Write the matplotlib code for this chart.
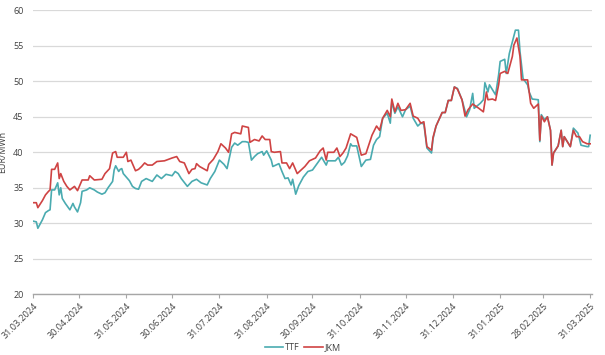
import pandas as pd
import matplotlib
matplotlib.use("Agg")
import matplotlib.pyplot as plt
import matplotlib.dates as mdates

plt.rcParams['font.family'] = ['Open Sans', 'DejaVu Sans']

start = pd.Timestamp("2024-03-31")

# days after 31.03.2024, EUR/MWh
ttf_days = [0, 2, 3, 6, 8, 10, 11, 12, 14, 16, 17, 18, 19, 21, 24, 26, 27, 29, 31, 32,
            35, 37, 40, 42, 45, 47, 49, 52, 53, 54, 56, 57, 58, 59, 61, 63, 65, 67, 69, 71,
            74, 78, 81, 84, 87, 91, 93, 95, 97, 101, 104, 107, 110, 114, 116, 119, 122, 125, 127, 130,
            132, 134, 137, 139, 141, 143, 145, 147, 150, 151, 153, 156, 157, 161, 163, 165, 167, 169, 170, 172,
            174, 177, 180, 183, 187, 189, 192, 193, 198, 200, 202, 204, 206, 208, 209, 212, 215, 218, 221, 223,
            225, 227, 229, 232, 234, 235, 237, 239, 242, 244, 247, 249, 252, 254, 256, 258, 261, 262, 264, 268,
            270, 272, 274, 276, 278, 281, 284, 286, 288, 289, 293, 295, 296, 298, 299, 303, 305, 306, 309, 310,
            312, 316, 318, 319, 321, 324, 325, 327, 331, 332, 333, 335, 337, 339, 340, 341, 344, 346, 347, 348,
            350, 352, 354, 357, 359, 363, 364, 365]
ttf = [30.3, 30.2, 29.3, 30.5, 31.5, 31.8, 31.9, 34.7, 34.7, 35.7, 34.0, 35.0, 33.5, 32.8, 31.9, 32.8, 32.3, 31.6, 32.9, 34.5,
       34.7, 35.0, 34.7, 34.4, 34.1, 34.3, 35.0, 35.9, 37.5, 38.1, 37.3, 37.6, 37.7, 37.0, 36.5, 36.0, 35.2, 34.9, 34.8, 35.9,
       36.3, 35.9, 36.8, 36.3, 36.9, 36.7, 37.3, 37.0, 36.3, 35.2, 35.9, 36.2, 35.7, 35.4, 36.3, 37.3, 38.9, 38.3, 37.7, 40.7,
       41.3, 41.0, 41.5, 41.5, 41.4, 38.9, 39.4, 39.8, 40.1, 39.6, 40.2, 38.9, 38.0, 38.4, 37.3, 36.3, 36.4, 35.4, 36.2, 34.1,
       35.3, 36.5, 37.3, 37.5, 38.7, 39.3, 38.2, 38.8, 38.8, 39.3, 38.2, 38.6, 39.5, 41.2, 40.9, 40.9, 38.0, 38.9, 39.0, 41.0,
       41.8, 42.2, 44.8, 45.5, 44.1, 47.1, 45.5, 46.4, 45.0, 46.0, 46.5, 44.8, 43.7, 44.1, 44.0, 40.6, 39.9, 41.9, 43.7, 45.6,
       45.6, 47.3, 47.3, 49.2, 49.0, 47.4, 45.0, 46.0, 48.3, 46.2, 46.9, 47.4, 49.8, 48.5, 49.5, 48.1, 50.9, 52.8, 53.1, 51.1,
       53.9, 57.2, 57.2, 54.2, 50.4, 49.5, 48.5, 47.5, 47.4, 41.5, 45.3, 44.6, 45.0, 43.1, 38.2, 39.9, 40.9, 43.1, 40.8, 42.2,
       41.5, 40.8, 43.4, 42.7, 41.0, 40.8, 40.8, 42.4]

jkm_days = [0, 2, 3, 6, 8, 10, 11, 12, 14, 16, 17, 18, 20, 22, 24, 27, 29, 32, 36, 37,
            40, 45, 47, 50, 52, 54, 55, 59, 61, 62, 64, 67, 69, 71, 73, 75, 78, 81, 86, 91,
            94, 96, 99, 102, 104, 106, 107, 109, 114, 115, 118, 121, 123, 126, 128, 130, 132, 136, 137, 139,
            141, 142, 145, 148, 150, 152, 155, 156, 158, 162, 163, 166, 168, 170, 173, 175, 178, 181, 185, 188,
            190, 192, 193, 197, 199, 201, 203, 205, 208, 212, 215, 218, 222, 225, 227, 229, 232, 234, 235, 237,
            239, 241, 244, 247, 249, 252, 254, 256, 258, 261, 262, 264, 268, 270, 272, 274, 276, 278, 281, 283,
            285, 288, 292, 295, 297, 298, 301, 303, 305, 306, 309, 311, 314, 315, 317, 319, 320, 324, 326, 328,
            331, 332, 333, 335, 337, 339, 340, 341, 344, 346, 347, 348, 350, 352, 354, 356, 358, 360, 363, 365]
jkm = [32.9, 32.9, 32.2, 33.2, 34.0, 34.5, 34.7, 37.6, 37.6, 38.5, 36.3, 37.0, 35.9, 35.2, 34.7, 35.2, 34.6, 36.1, 36.1, 36.7,
       36.1, 36.2, 37.0, 37.7, 39.9, 40.1, 39.3, 39.3, 40.0, 38.7, 38.9, 37.4, 37.6, 38.0, 38.5, 38.2, 38.2, 38.7, 38.8, 39.2,
       39.4, 38.7, 38.5, 37.0, 37.6, 37.7, 38.4, 38.0, 37.4, 38.3, 39.0, 40.1, 41.2, 40.6, 40.0, 42.6, 42.8, 42.6, 43.7, 43.6,
       43.5, 41.4, 41.8, 41.6, 42.3, 41.8, 41.8, 40.1, 40.0, 40.1, 38.5, 38.5, 37.7, 38.5, 37.0, 37.4, 38.0, 38.8, 39.2, 40.2,
       40.6, 38.9, 40.0, 40.0, 40.6, 39.4, 39.9, 40.6, 42.6, 42.1, 39.6, 39.8, 42.4, 43.7, 43.1, 44.8, 45.9, 45.0, 47.5, 45.7,
       46.9, 45.9, 46.0, 46.9, 45.1, 44.8, 44.1, 44.3, 40.8, 40.3, 42.1, 43.7, 45.6, 45.6, 47.3, 47.3, 49.2, 48.9, 47.4, 45.1,
       46.0, 46.8, 46.2, 45.7, 48.5, 47.4, 47.5, 47.3, 49.5, 51.1, 51.4, 51.1, 53.5, 55.1, 56.1, 53.5, 50.2, 50.2, 46.9, 46.2,
       46.8, 41.7, 45.1, 44.3, 45.0, 43.1, 38.2, 39.9, 40.9, 43.1, 40.8, 42.2, 41.5, 40.8, 43.1, 42.2, 42.2, 41.5, 41.2, 41.2]

tick_dates = ["2024-03-31", "2024-04-30", "2024-05-31", "2024-06-30", "2024-07-31", "2024-08-31",
              "2024-09-30", "2024-10-31", "2024-11-30", "2024-12-31", "2025-01-31", "2025-02-28",
              "2025-03-31"]

ttf_x = start + pd.to_timedelta(ttf_days, unit="D")
jkm_x = start + pd.to_timedelta(jkm_days, unit="D")
ticks = pd.to_datetime(tick_dates)

fig = plt.figure(figsize=(6.05, 3.55), dpi=100)
ax = fig.add_axes([0.055, 0.171, 0.923, 0.800])

ax.plot(ttf_x, ttf, color="#4aabb0", lw=1.2, label="TTF")
ax.plot(jkm_x, jkm, color="#cf4343", lw=1.2, label="JKM")

ax.set_ylim(20, 60)
ax.set_yticks(range(20, 61, 5))
ax.set_xlim(start, start + pd.Timedelta(days=366))
ax.set_xticks(ticks)
ax.xaxis.set_major_formatter(mdates.DateFormatter("%d.%m.%Y"))

ax.grid(axis="y", color="#d9d9d9", lw=0.9)
ax.set_axisbelow(True)
for s in ["top", "right", "left"]:
    ax.spines[s].set_visible(False)
ax.spines["bottom"].set_color("#a6a6a6")
ax.spines["bottom"].set_linewidth(1.0)

ax.tick_params(axis="y", length=0, labelsize=6.5, labelcolor="#404040", pad=7)
ax.tick_params(axis="x", length=3, color="#a6a6a6", labelsize=6.5, labelcolor="#404040", pad=2)
for lbl in ax.get_xticklabels():
    lbl.set_rotation(45)
    lbl.set_ha("right")
    lbl.set_va("top")
    lbl.set_rotation_mode("anchor")

ax.set_ylabel("EUR/MWh", fontsize=6.5, color="#404040")
ax.yaxis.set_label_coords(-0.046, 0.5)

fig.legend(loc="lower center", bbox_to_anchor=(0.5, -0.015), ncol=2, frameon=False,
           fontsize=6.5, handlelength=2.0, handletextpad=0.2, columnspacing=0.6,
           labelcolor="#404040")

fig.savefig("out.png", dpi=100)
